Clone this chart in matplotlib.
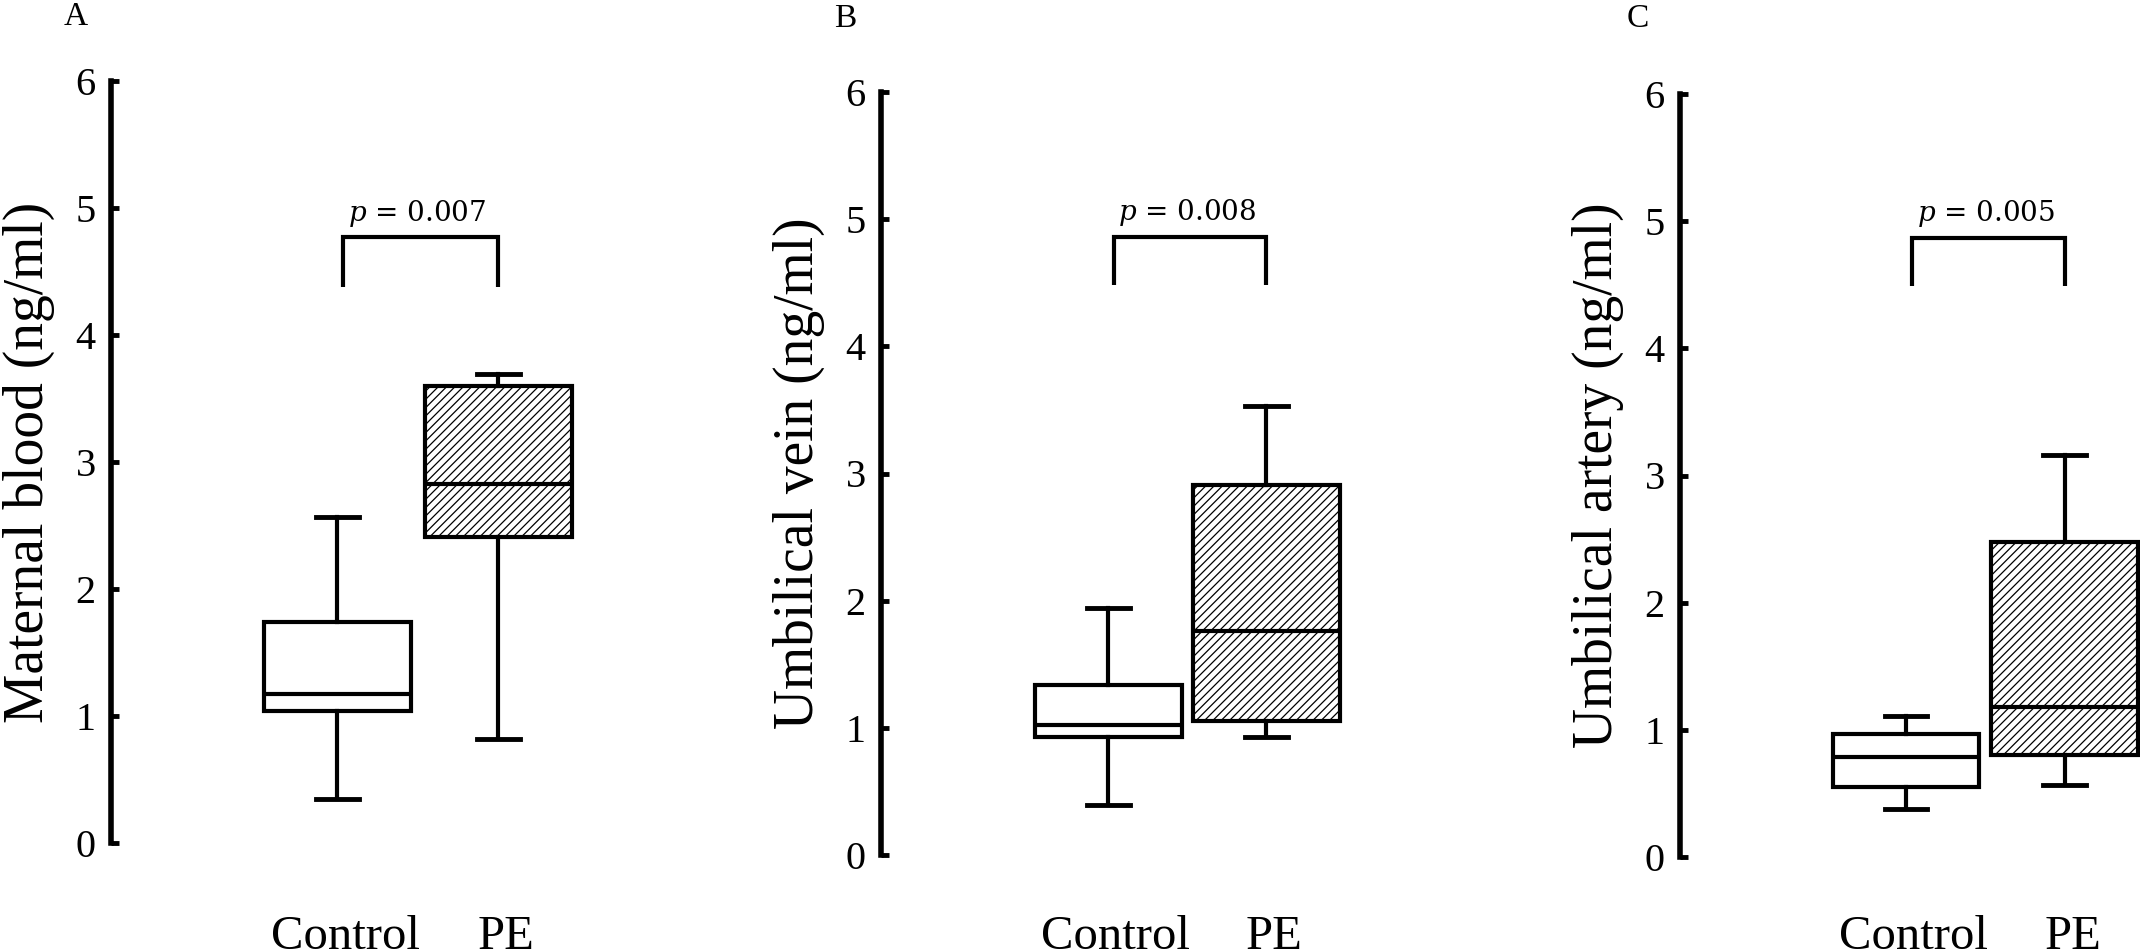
import matplotlib
matplotlib.use('Agg')
import matplotlib.pyplot as plt

# five-number summaries (ng/ml)
groups = ['Control', 'PE']
panel_tags = ['A', 'B', 'C']
ylabels = ['Maternal blood (ng/ml)', 'Umbilical vein (ng/ml)', 'Umbilical artery (ng/ml)']
# whislo, q1, med, q3, whishi
control_vals = [
    [0.35, 1.04, 1.17, 1.74, 2.57],
    [0.39, 0.93, 1.02, 1.34, 1.94],
    [0.38, 0.55, 0.79, 0.97, 1.11],
]
pe_vals = [
    [0.82, 2.41, 2.83, 3.60, 3.69],
    [0.93, 1.05, 1.76, 2.91, 3.53],
    [0.57, 0.80, 1.18, 2.48, 3.16],
]
p_values = ['0.007', '0.008', '0.005']
bracket_low = [4.38, 4.48, 4.49]
bracket_high = [4.77, 4.86, 4.87]
yticks = [0, 1, 2, 3, 4, 5, 6]

# layout in pixels of the 2140x951 figure
W, H = 2140, 951
spine_px = [111, 881, 1680]
zero_px = [843, 855, 857]
six_px = [81, 92, 94]
ctrl_px = [337, 1108, 1906]
pe_px = [498, 1266, 2065]
tag_px = [(76, 17), (845, 19), (1638, 19)]
label_top_px = 915

plt.rcParams['font.family'] = ['Liberation Serif', 'DejaVu Serif']
plt.rcParams['mathtext.fontset'] = 'dejavuserif'
plt.rcParams['hatch.linewidth'] = 0.9
plt.rcParams['hatch.color'] = 'black'

fig = plt.figure(figsize=(W / 100, H / 100), dpi=100)

for i in range(3):
    s = pe_px[i] - ctrl_px[i]            # px per data unit along x
    ax_w = 520
    xmin = 1 - (ctrl_px[i] - spine_px[i]) / s
    xmax = xmin + ax_w / s
    ax = fig.add_axes([spine_px[i] / W, 1 - zero_px[i] / H,
                       ax_w / W, (zero_px[i] - six_px[i]) / H])
    stats = []
    for vals, name in zip([control_vals[i], pe_vals[i]], groups):
        stats.append(dict(whislo=vals[0], q1=vals[1], med=vals[2], q3=vals[3],
                          whishi=vals[4], fliers=[], label=name))
    lw = 3
    bp = ax.bxp(stats, positions=[1, 2], widths=147 / s, capwidths=43 / s,
                patch_artist=True, showfliers=False,
                boxprops=dict(linewidth=lw, edgecolor='black', facecolor='white'),
                whiskerprops=dict(linewidth=lw, color='black'),
                capprops=dict(linewidth=lw + 0.5, color='black'),
                medianprops=dict(linewidth=lw, color='black'))
    bp['boxes'][1].set_hatch('////')

    # significance bracket
    bx = [1.04, 1.04, 2.0, 2.0]
    by = [bracket_low[i], bracket_high[i], bracket_high[i], bracket_low[i]]
    ax.plot(bx, by, color='black', linewidth=3, solid_joinstyle='miter',
            solid_capstyle='butt', clip_on=False)
    ax.text(1.5, bracket_high[i] + 0.13, r'$p$ = ' + p_values[i],
            ha='center', va='baseline', fontsize=20, family='DejaVu Serif')

    ax.set_xlim(xmin, xmax)
    ax.set_ylim(0, 6)
    ax.set_yticks(yticks)
    ax.set_yticklabels([str(t) for t in yticks])
    for side in ['top', 'right', 'bottom']:
        ax.spines[side].set_visible(False)
    ax.spines['left'].set_linewidth(4)
    ax.tick_params(axis='y', direction='in', length=5.5, width=3.5,
                   pad=11, labelsize=29)
    ax.set_xticks([1.05, 2.05])
    ax.set_xticklabels(groups)
    ax.tick_params(axis='x', length=0, labelsize=35,
                   pad=(label_top_px - zero_px[i]) * 0.72)
    ax.set_ylabel(ylabels[i], fontsize=40, va='center')
    ax.yaxis.set_label_coords(-82 / ax_w, 0.5)

    fig.text(tag_px[i][0] / W, 1 - tag_px[i][1] / H, panel_tags[i],
             ha='center', va='center', fontsize=24)

fig.savefig('out.png', dpi=100)
